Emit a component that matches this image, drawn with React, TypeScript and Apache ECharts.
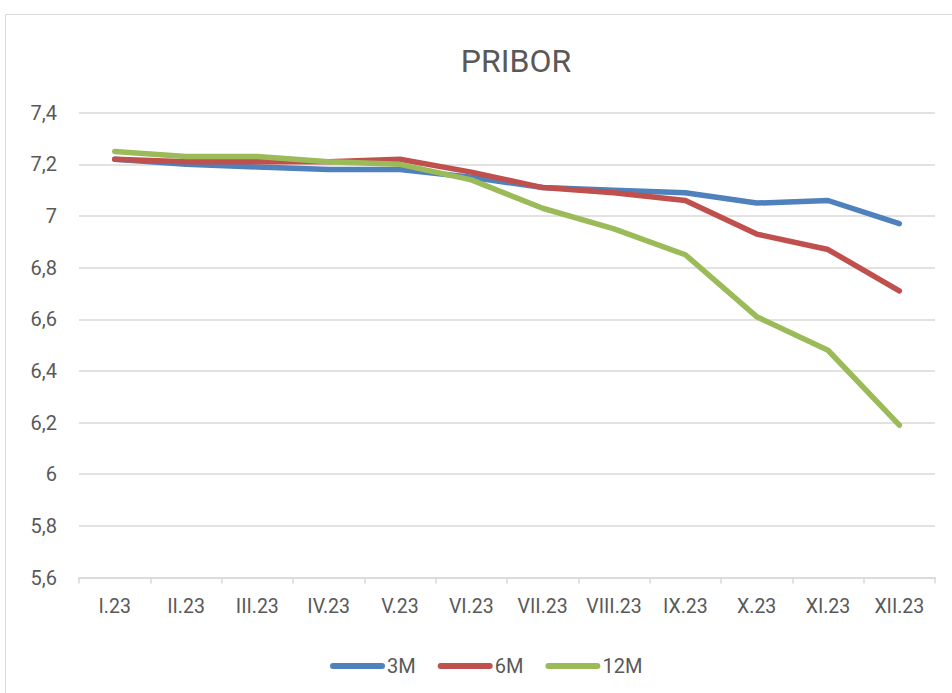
import React, { useEffect, useRef } from "react";
import * as echarts from "echarts";

const categories = ["I.23", "II.23", "III.23", "IV.23", "V.23", "VI.23", "VII.23", "VIII.23", "IX.23", "X.23", "XI.23", "XII.23"];
const m3 = [7.22, 7.2, 7.19, 7.18, 7.18, 7.15, 7.11, 7.1, 7.09, 7.05, 7.06, 6.97];
const m6 = [7.22, 7.21, 7.21, 7.21, 7.22, 7.17, 7.11, 7.09, 7.06, 6.93, 6.87, 6.71];
const m12 = [7.25, 7.23, 7.23, 7.21, 7.2, 7.14, 7.03, 6.95, 6.85, 6.61, 6.48, 6.19];
const seriesNames = ["3M", "6M", "12M"];
const colors = ["#4F81BD", "#C0504D", "#9BBB59"];

const FONT = "Roboto";
const TEXT = "#595959";
const GRID = "#d9d9d9";

export default function App() {
  const ref = useRef<HTMLDivElement>(null);
  useEffect(() => {
    document.body.style.margin = "0";
    if (!ref.current) return;
    const chart = echarts.init(ref.current, null, { renderer: "svg" });
    const data = [m3, m6, m12];
    chart.setOption({
      animation: false,
      backgroundColor: "#ffffff",
      title: {
        text: "PRIBOR",
        left: 516,
        top: 45,
        padding: 0,
        textAlign: "center",
        textStyle: { fontFamily: FONT, fontSize: 32, fontWeight: "normal", color: TEXT },
      },
      graphic: [
        {
          type: "rect",
          z: -10,
          silent: true,
          shape: { x: 5.5, y: 14.5, width: 2000, height: 2000 },
          style: { fill: "none", stroke: GRID, lineWidth: 1 },
        },
      ],
      legend: {
        left: 325,
        top: 651,
        itemWidth: 55,
        itemHeight: 6,
        itemGap: 22,
        icon: "path://M3,0 H52 A3,3 0 0 1 52,6 H3 A3,3 0 0 1 3,0 Z",
        textStyle: { fontFamily: FONT, fontSize: 20, color: TEXT, padding: [0, 0, 0, -3] },
        data: seriesNames,
      },
      grid: { left: 79, right: 17, top: 112.7, bottom: 115.5, containLabel: false },
      xAxis: {
        type: "category",
        data: categories,
        boundaryGap: true,
        axisLine: { show: true, lineStyle: { color: GRID, width: 1.5 } },
        axisTick: { show: true, length: 6, lineStyle: { color: GRID, width: 1.5 } },
        axisLabel: { fontFamily: FONT, fontSize: 19.5, color: TEXT, margin: 19, interval: 0 },
        splitLine: { show: false },
      },
      yAxis: {
        type: "value",
        min: 5.6,
        max: 7.4,
        interval: 0.2,
        axisLine: { show: false },
        axisTick: { show: false },
        axisLabel: {
          fontFamily: FONT,
          fontSize: 20,
          color: TEXT,
          margin: 22,
          formatter: (v: number) => String(+v.toFixed(1)).replace(".", ","),
        },
        splitLine: { show: true, lineStyle: { color: GRID, width: 1.5 } },
      },
      series: seriesNames.map((name, i) => ({
        name,
        type: "line",
        data: data[i],
        symbol: "none",
        smooth: false,
        color: colors[i],
        lineStyle: { width: 5.5, color: colors[i], cap: "round", join: "round" },
        itemStyle: { color: colors[i] },
      })),
    });
    return () => chart.dispose();
  }, []);
  return <div ref={ref} style={{ width: 952, height: 693 }} />;
}
